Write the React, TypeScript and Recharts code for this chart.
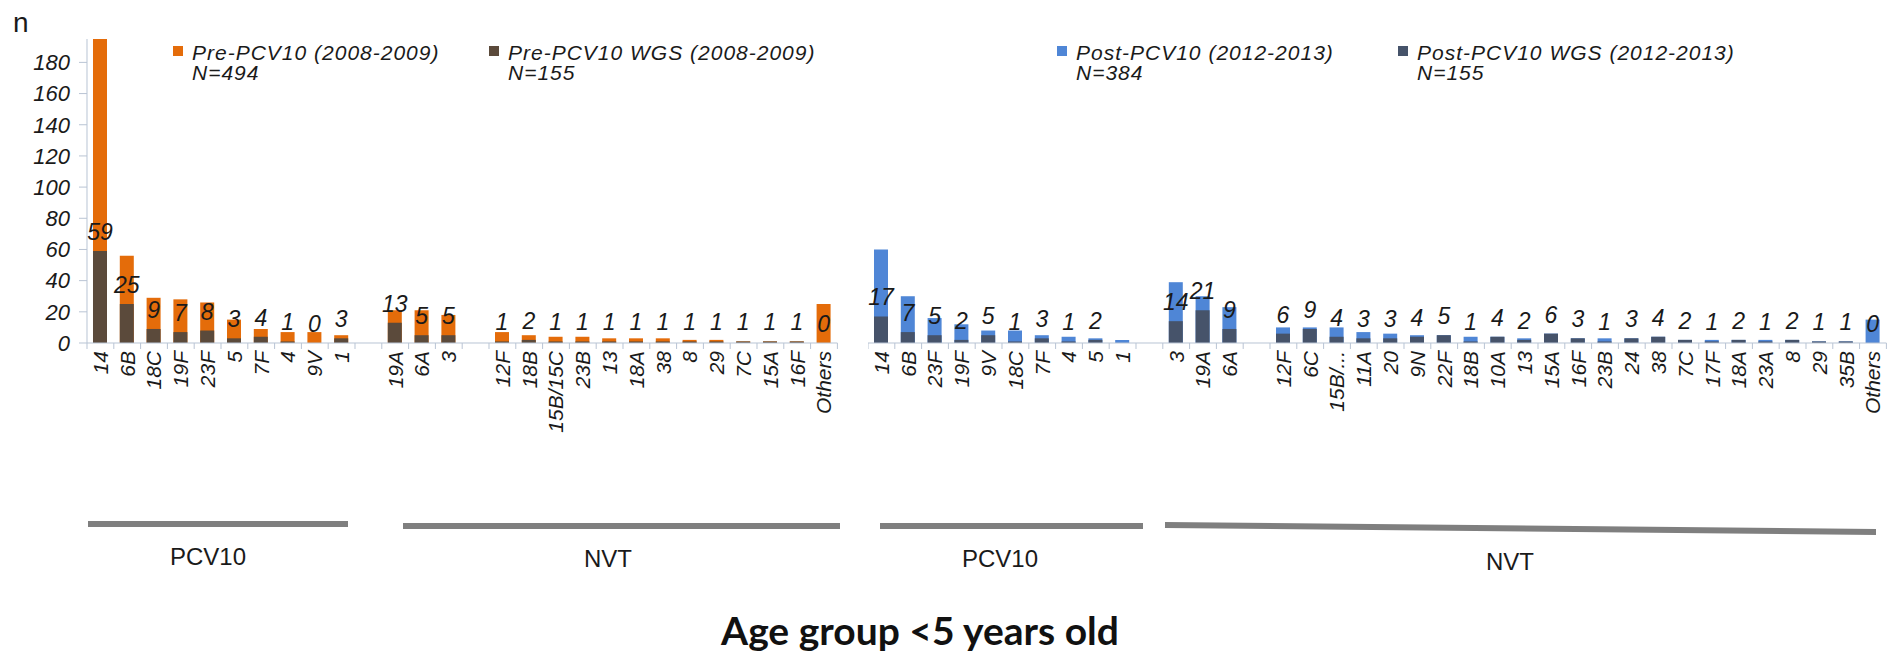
import { BarChart, Bar, XAxis, YAxis, LabelList, Legend } from 'recharts';

// serotypes, pre-PCV10 period (blank entries are the gaps between groups)
const preCategories = ['14', '6B', '18C', '19F', '23F', '5', '7F', '4', '9V', '1', '', '19A', '6A', '3', '', '12F', '18B', '15B/15C', '23B', '13', '18A', '38', '8', '29', '7C', '15A', '16F', 'Others'];
const preTotal = [195, 56, 29, 28, 26, 15, 9, 7, 7, 5, null, 21, 21, 18, null, 7, 5, 4, 4, 3, 3, 3, 2, 2, 1, 1, 1, 25];
const preWgs = [59, 25, 9, 7, 8, 3, 4, 1, 0, 3, null, 13, 5, 5, null, 1, 2, 1, 1, 1, 1, 1, 1, 1, 1, 1, 1, 0];

// serotypes, post-PCV10 period
const postCategories = ['14', '6B', '23F', '19F', '9V', '18C', '7F', '4', '5', '1', '', '3', '19A', '6A', '', '12F', '6C', '15B/...', '11A', '20', '9N', '22F', '18B', '10A', '13', '15A', '16F', '23B', '24', '38', '7C', '17F', '18A', '23A', '8', '29', '35B', 'Others'];
const postTotal = [60, 30, 16, 12, 8, 8, 5, 4, 3, 2, null, 39, 30, 23, null, 10, 10, 10, 7, 6, 5, 5, 4, 4, 3, 6, 3, 3, 3, 4, 2, 2, 2, 2, 2, 1, 1, 15];
const postWgs = [17, 7, 5, 2, 5, 1, 3, 1, 2, null, null, 14, 21, 9, null, 6, 9, 4, 3, 3, 4, 5, 1, 4, 2, 6, 3, 1, 3, 4, 2, 1, 2, 1, 2, 1, 1, 0];

const yTicks = [0, 20, 40, 60, 80, 100, 120, 140, 160, 180];
const seriesNames = ['Pre-PCV10 (2008-2009)', 'Pre-PCV10 WGS (2008-2009)', 'Post-PCV10 (2012-2013)', 'Post-PCV10 WGS (2012-2013)'];
const seriesN = ['N=494', 'N=155', 'N=384', 'N=155'];
const groupLabels = ['PCV10', 'NVT', 'PCV10', 'NVT'];

const FONT = '"Liberation Sans", Arial, sans-serif';
const BAND = 26.8;
const TOP = 39;
const AXIS_Y = 343;
const Y_MAX = 195;
const CHART_H = 440;
const AXIS_COLOR = '#b9c4d4';

const preData = preCategories.map((name, i) => ({ name, total: preTotal[i], wgs: preWgs[i] }));
const postData = postCategories.map((name, i) => ({ name, total: postTotal[i], wgs: postWgs[i] }));

function XTick(props: any) {
  const { x, y, payload, index, count } = props;
  const half = BAND / 2;
  return (
    <g>
      <line x1={x - half} x2={x - half} y1={AXIS_Y} y2={AXIS_Y + 6} stroke={AXIS_COLOR} />
      {index === count - 1 && <line x1={x + half} x2={x + half} y1={AXIS_Y} y2={AXIS_Y + 6} stroke={AXIS_COLOR} />}
      <text
        x={x}
        y={y}
        transform={`rotate(-90 ${x} ${y})`}
        textAnchor="end"
        dominantBaseline="central"
        fontSize={21}
        fontStyle="italic"
        fontFamily={FONT}
        fill="#1a1a1a"
      >
        {payload.value}
      </text>
    </g>
  );
}

// WGS count written just above the top of the WGS bar (also for zero counts)
function WgsLabel(p: any) {
  const vb = p.viewBox || p;
  if (p.value === null || p.value === undefined || vb.x === undefined) return null;
  const top = AXIS_Y - (p.value * (AXIS_Y - TOP)) / Y_MAX;
  return (
    <text
      x={vb.x + vb.width / 2}
      y={top - 11}
      textAnchor="middle"
      fontSize={23}
      fontStyle="italic"
      fontFamily={FONT}
      fill="#1a1a1a"
    >
      {p.value}
    </text>
  );
}

const makeLegend = (xs: number[], ns: string[]) => (props: any) => (
  <div style={{ position: 'relative', width: 0, height: 0 }}>
    {(props.payload || []).map((entry: any, i: number) => {
      const text = {
        position: 'absolute' as const,
        left: xs[i] + 19,
        whiteSpace: 'nowrap' as const,
        fontFamily: FONT,
        fontStyle: 'italic',
        fontSize: 21,
        lineHeight: '20px',
        letterSpacing: 1,
        color: '#1a1a1a',
        textAlign: 'left' as const,
      };
      return (
        <div key={i}>
          <div style={{ position: 'absolute', left: xs[i], top: 46, width: 10, height: 10, background: entry.color }} />
          <div style={{ ...text, top: 43 }}>{entry.value}</div>
          <div style={{ ...text, top: 63 }}>{ns[i]}</div>
        </div>
      );
    })}
  </div>
);

function Panel(props: any) {
  const { data, count, width, colors, names, ns, legendX, showY } = props;
  return (
    <BarChart
      width={width}
      height={CHART_H}
      data={data}
      margin={{ top: TOP, right: showY ? 8 : 1, bottom: 0, left: 0 }}
      barGap={-14}
      style={{ overflow: 'visible' }}
    >
      <XAxis
        dataKey="name"
        interval={0}
        height={CHART_H - AXIS_Y}
        tickLine={false}
        tickSize={6}
        tickMargin={2}
        axisLine={{ stroke: AXIS_COLOR }}
        tick={(p: any) => <XTick {...p} count={count} />}
      />
      <YAxis
        hide={!showY}
        width={showY ? 87 : 0}
        domain={[0, Y_MAX]}
        ticks={yTicks}
        interval={0}
        tickSize={8}
        tickMargin={9}
        axisLine={{ stroke: AXIS_COLOR }}
        tickLine={{ stroke: AXIS_COLOR }}
        tick={{ fontSize: 22, fontStyle: 'italic', fill: '#1a1a1a', fontFamily: FONT }}
      />
      <Legend
        layout="horizontal"
        verticalAlign="middle"
        align="center"
        wrapperStyle={{ top: 0, left: 0, width: 0, height: 0 }}
        content={makeLegend(legendX, ns)}
      />
      <Bar dataKey="total" name={names[0]} fill={colors[0]} barSize={14} isAnimationActive={false}>
        <LabelList dataKey="wgs" content={WgsLabel} />
      </Bar>
      <Bar dataKey="wgs" name={names[1]} fill={colors[1]} barSize={14} isAnimationActive={false} />
    </BarChart>
  );
}

export default function App() {
  const preWidth = 87 + preCategories.length * BAND + 8;
  const postWidth = postCategories.length * BAND + 1;
  return (
    <div style={{ position: 'absolute', left: 0, top: 0, width: 1887, height: 655, overflow: 'hidden', background: '#fff' }}>
      <div style={{ position: 'absolute', left: 0, top: 0 }}>
        <Panel
          data={preData}
          count={preCategories.length}
          width={preWidth}
          colors={['#E46C0A', '#5B4A3B']}
          names={seriesNames.slice(0, 2)}
          ns={seriesN.slice(0, 2)}
          legendX={[173, 489]}
          showY
        />
      </div>
      <div style={{ position: 'absolute', left: 868, top: 0 }}>
        <Panel
          data={postData}
          count={postCategories.length}
          width={postWidth}
          colors={['#4F86D6', '#46536A']}
          names={seriesNames.slice(2, 4)}
          ns={seriesN.slice(2, 4)}
          legendX={[189, 530]}
          showY={false}
        />
      </div>
      <svg width={1887} height={655} style={{ position: 'absolute', left: 0, top: 0, pointerEvents: 'none' }}>
        <text x={13} y={32} fontSize={28} fontFamily={FONT} fill="#1a1a1a">n</text>
        <line x1={88} x2={348} y1={524} y2={524} stroke="#7f7f7f" strokeWidth={6} />
        <line x1={403} x2={840} y1={526} y2={526} stroke="#7f7f7f" strokeWidth={6} />
        <line x1={880} x2={1143} y1={526} y2={526} stroke="#7f7f7f" strokeWidth={6} />
        <line x1={1165} x2={1876} y1={525} y2={532} stroke="#7f7f7f" strokeWidth={6} />
        <g fontSize={24} fontFamily={FONT} fill="#1a1a1a" textAnchor="middle">
          <text x={208} y={565}>{groupLabels[0]}</text>
          <text x={608} y={567}>{groupLabels[1]}</text>
          <text x={1000} y={567}>{groupLabels[2]}</text>
          <text x={1510} y={570}>{groupLabels[3]}</text>
        </g>
        <text x={920} y={645} fontSize={39} fontWeight="bold" fontFamily="Lato, 'Open Sans', sans-serif" fill="#111" textAnchor="middle">
          Age group &lt;5 years old
        </text>
      </svg>
    </div>
  );
}
